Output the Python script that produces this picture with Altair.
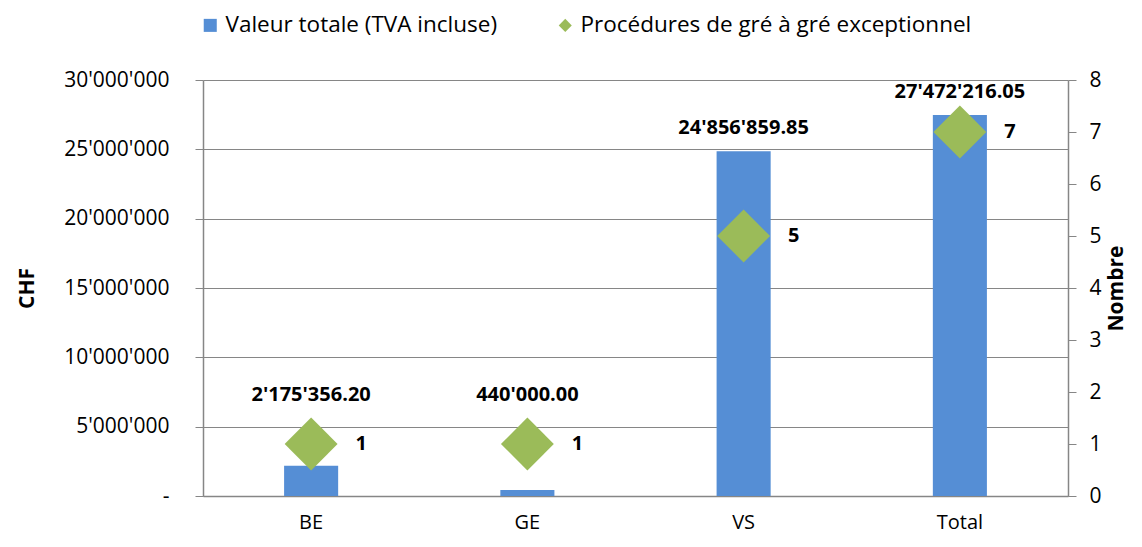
import altair as alt
import pandas as pd

categories = ["BE", "GE", "VS", "Total"]
valeurs = [2175356.20, 440000.00, 24856859.85, 27472216.05]
nombres = [1, 1, 5, 7]
series = ["Valeur totale (TVA incluse)", "Procédures de gré à gré exceptionnel"]
left_ticks = [0, 5000000, 10000000, 15000000, 20000000, 25000000, 30000000]
right_ticks = [0, 1, 2, 3, 4, 5, 6, 7, 8]

BLUE = "#558ED5"
GREEN = "#9BBB59"
GRAY = "#868686"
FONT = "Open Sans"

df = pd.DataFrame({
    "cat": categories,
    "valeur": valeurs,
    "nombre": nombres,
    "serie": series[1],
})

base = alt.Chart(df)
x = alt.X("cat:N", sort=categories, title=None,
          scale=alt.Scale(paddingInner=0.75, paddingOuter=0.375),
          axis=alt.Axis(labelAngle=0, ticks=False, labelPadding=16, labelFontSize=20,
                        labelFont=FONT, labelColor="black", domainColor=GRAY, domainWidth=1.5))

left_axis = alt.Axis(values=left_ticks, format=",d", labelExpr="datum.value == 0 ? '-' : datum.label",
                     tickSize=8, tickColor=GRAY, domainColor=GRAY, domainWidth=1.5,
                     gridColor=GRAY, gridWidth=1.2, labelPadding=26, labelFontSize=21,
                     labelFont=FONT, labelColor="black", titleFont=FONT, titleFontSize=21,
                     titleFontWeight="bold", titlePadding=26, titleColor="black")
left_scale = alt.Scale(domain=[0, 30000000], nice=False)

bars = base.mark_bar(color=BLUE).encode(
    x=x, y=alt.Y("valeur:Q", title="CHF", scale=left_scale, axis=left_axis))
bar_text = base.transform_calculate(
    anchor="max(datum.valeur, 5600000)"
).mark_text(fontWeight="bold", fontSize=20, font=FONT, dy=-23, color="black").encode(
    x=alt.X("cat:N", sort=categories),
    y=alt.Y("anchor:Q", title="CHF", scale=left_scale, axis=left_axis),
    text=alt.Text("valeur:Q", format=",.2f"),
)
left = alt.layer(bars, bar_text)

right_axis = alt.Axis(orient="right", values=right_ticks, grid=False, tickSize=8, tickColor=GRAY,
                      domainColor=GRAY, domainWidth=1.5, labelPadding=13, labelFontSize=21,
                      labelFont=FONT, labelColor="black", titleFont=FONT, titleFontSize=21,
                      titleFontWeight="bold", titleAngle=270, titleBaseline="top",
                      titlePadding=4, titleColor="black")
right_scale = alt.Scale(domain=[0, 8], nice=False)

leg = alt.Legend(orient="none", direction="horizontal", title=None,
                 legendX=-4, legendY=-66, labelFontSize=22.5, labelFont=FONT, labelLimit=600,
                 labelColor="black", symbolSize=170, symbolOpacity=1,
                 columnPadding=56, symbolStrokeWidth=0)

points = base.mark_point(filled=True, size=2800, opacity=1).encode(
    x=alt.X("cat:N", sort=categories),
    y=alt.Y("nombre:Q", title="Nombre", scale=right_scale, axis=right_axis),
    color=alt.Color("serie:N", scale=alt.Scale(domain=series, range=[BLUE, GREEN]), legend=leg),
    shape=alt.Shape("serie:N", scale=alt.Scale(domain=series, range=["square", "diamond"]), legend=leg),
)
point_text = base.mark_text(fontWeight="bold", fontSize=20, font=FONT, dx=50, color="black").encode(
    x=alt.X("cat:N", sort=categories),
    y=alt.Y("nombre:Q", title="Nombre", scale=right_scale, axis=right_axis),
    text=alt.Text("nombre:Q"),
)
right = alt.layer(points, point_text)

chart = alt.layer(left, right).resolve_scale(y="independent").properties(
    width=865, height=416,
    padding={"left": 8, "top": 6, "right": 6, "bottom": 6},
).configure(
    locale={"number": {"decimal": ".", "thousands": "'", "grouping": [3], "currency": ["", ""]}}
).configure_view(stroke=None)

chart.save("out.html", embed_options={"renderer": "svg", "actions": False})
